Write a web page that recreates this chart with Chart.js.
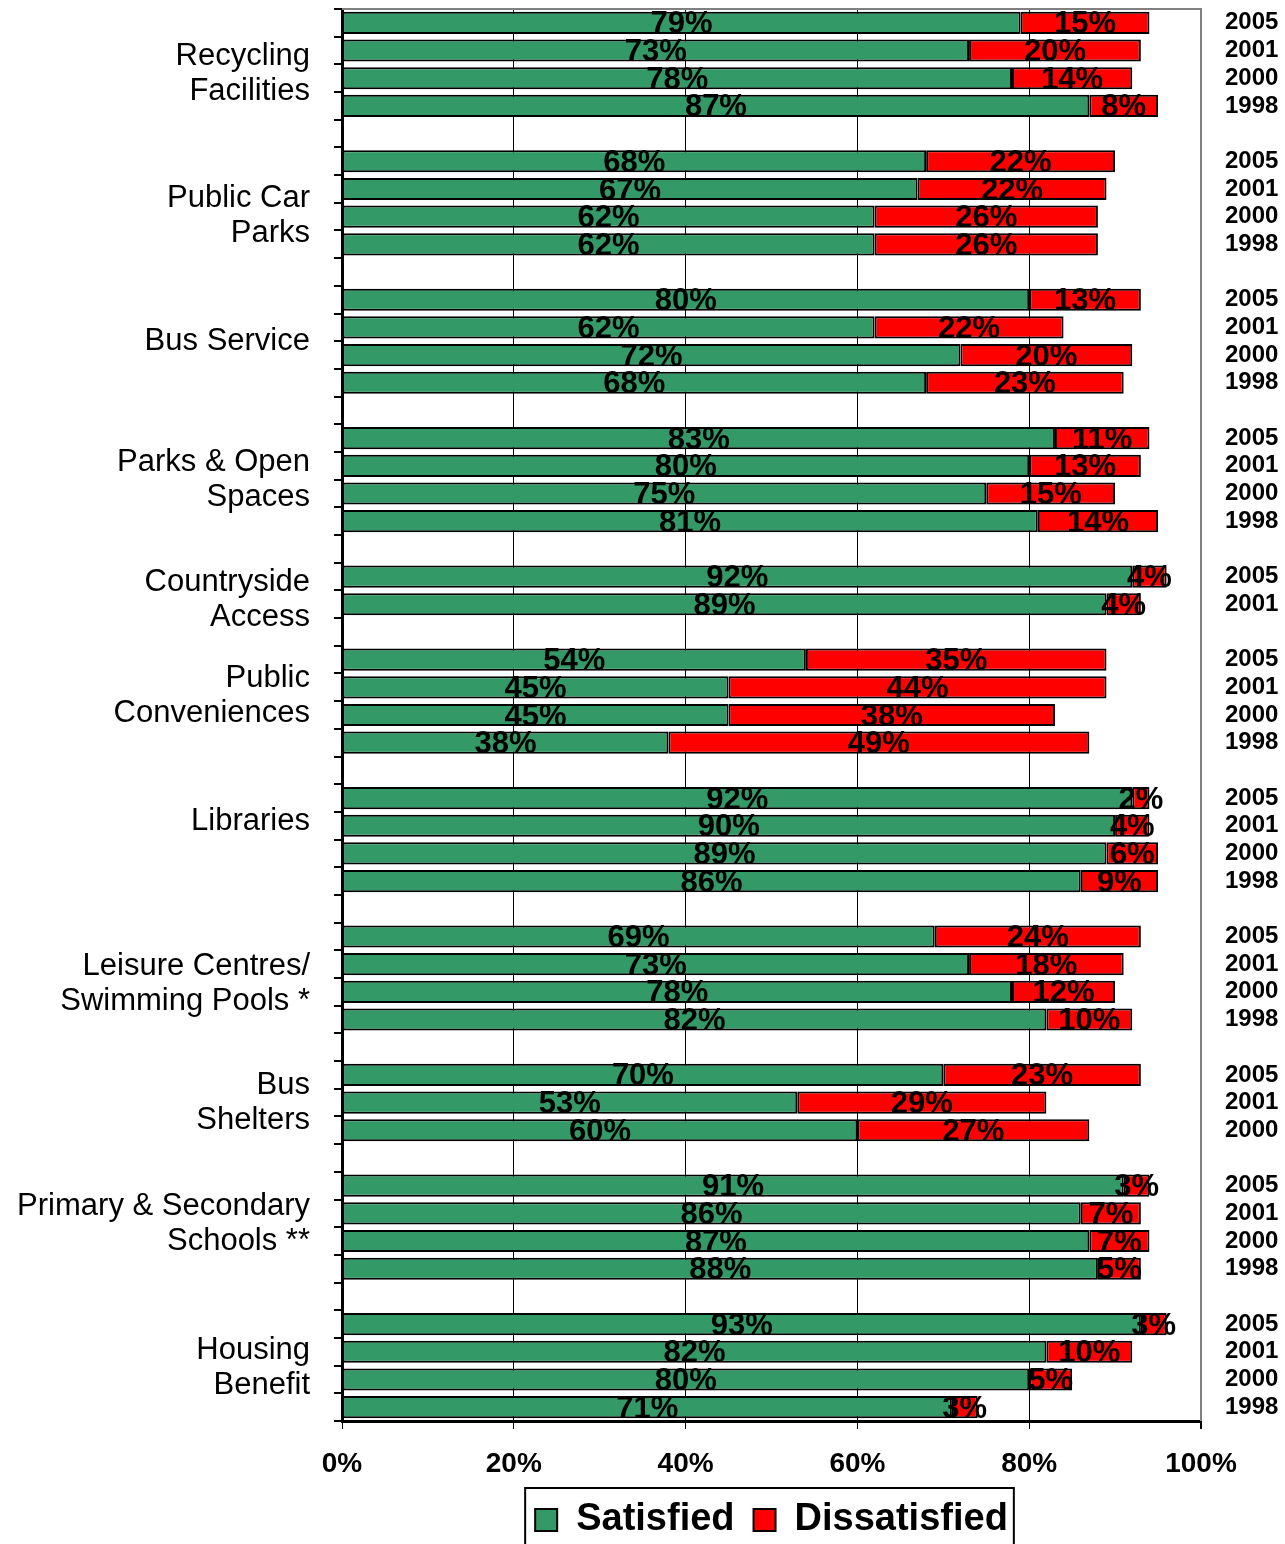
<!DOCTYPE html>
<html>
<head>
<meta charset="utf-8">
<script src="https://cdn.jsdelivr.net/npm/chart.js@4.4.0/dist/chart.umd.min.js"></script>
<style>
  html, body { margin: 0; padding: 0; background: #fff; }
  #wrap { width: 1285px; height: 1544px; }
</style>
</head>
<body>
<div id="wrap"><canvas id="chart"></canvas></div>
<script>
// survey results per service, newest year first
const services = [
  ['Recycling', 'Facilities'],
  ['Public Car', 'Parks'],
  ['Bus Service'],
  ['Parks & Open', 'Spaces'],
  ['Countryside', 'Access'],
  ['Public', 'Conveniences'],
  ['Libraries'],
  ['Leisure Centres/', 'Swimming Pools *'],
  ['Bus', 'Shelters'],
  ['Primary & Secondary', 'Schools **'],
  ['Housing', 'Benefit']
];
const years = [
  ['2005', '2001', '2000', '1998'],
  ['2005', '2001', '2000', '1998'],
  ['2005', '2001', '2000', '1998'],
  ['2005', '2001', '2000', '1998'],
  ['2005', '2001'],
  ['2005', '2001', '2000', '1998'],
  ['2005', '2001', '2000', '1998'],
  ['2005', '2001', '2000', '1998'],
  ['2005', '2001', '2000'],
  ['2005', '2001', '2000', '1998'],
  ['2005', '2001', '2000', '1998']
];
const satisfied = [
  [79, 73, 78, 87],
  [68, 67, 62, 62],
  [80, 62, 72, 68],
  [83, 80, 75, 81],
  [92, 89],
  [54, 45, 45, 38],
  [92, 90, 89, 86],
  [69, 73, 78, 82],
  [70, 53, 60],
  [91, 86, 87, 88],
  [93, 82, 80, 71]
];
const dissatisfied = [
  [15, 20, 14, 8],
  [22, 22, 26, 26],
  [13, 22, 20, 23],
  [11, 13, 15, 14],
  [4, 4],
  [35, 44, 38, 49],
  [2, 4, 6, 9],
  [24, 18, 12, 10],
  [23, 29, 27],
  [3, 7, 7, 5],
  [3, 10, 5, 3]
];
const xTicks = [0, 20, 40, 60, 80, 100];

// vertical shift (px) of each service name relative to its bar group
const nameShift = [10, 13, 0, 0, 10, -5, -18, 6, 0, -3, 2];

// flatten into rows, with an empty row between services
const rowKeys = [], rowYears = [], satRows = [], disRows = [], groupSpan = [];
services.forEach((s, g) => {
  if (g > 0) {
    rowKeys.push('gap' + g);
    rowYears.push('');
    satRows.push(null);
    disRows.push(null);
  }
  const first = rowKeys.length;
  years[g].forEach((yr, i) => {
    rowKeys.push(g + '-' + yr);
    rowYears.push(yr);
    satRows.push(satisfied[g][i]);
    disRows.push(dissatisfied[g][i]);
  });
  groupSpan.push([first, rowKeys.length - 1]);
});

const FONT = '"Liberation Sans", Arial, sans-serif';

const plotFrame = {
  id: 'plotFrame',
  beforeDatasetsDraw(chart) {
    const { ctx, chartArea: a } = chart;
    ctx.save();
    ctx.strokeStyle = '#808080';
    ctx.lineWidth = 2;
    ctx.beginPath();
    ctx.moveTo(a.left, a.top);
    ctx.lineTo(a.right, a.top);
    ctx.lineTo(a.right, a.bottom);
    ctx.stroke();
    ctx.restore();
  }
};

const serviceNames = {
  id: 'serviceNames',
  afterDraw(chart) {
    const { ctx, chartArea } = chart;
    const y = chart.scales.y;
    const lineH = 35;
    ctx.save();
    ctx.font = '31px ' + FONT;
    ctx.fillStyle = '#000';
    ctx.textAlign = 'right';
    ctx.textBaseline = 'middle';
    services.forEach((lines, g) => {
      const [a, b] = groupSpan[g];
      const mid = (y.getPixelForValue(a) + y.getPixelForValue(b)) / 2 + nameShift[g];
      const top = mid - (lines.length - 1) * lineH / 2;
      lines.forEach((t, k) => ctx.fillText(t, chartArea.left - 32, top + k * lineH));
    });
    ctx.restore();
  }
};

const valueLabels = {
  id: 'valueLabels',
  afterDatasetsDraw(chart) {
    const { ctx } = chart;
    ctx.save();
    ctx.font = 'bold 31px ' + FONT;
    ctx.fillStyle = '#000';
    ctx.textAlign = 'center';
    ctx.textBaseline = 'middle';
    chart.data.datasets.forEach((ds, di) => {
      chart.getDatasetMeta(di).data.forEach((bar, i) => {
        const v = ds.data[i];
        if (v == null) return;
        ctx.fillText(v + '%', (bar.x + bar.base) / 2, bar.y + 2);
      });
    });
    ctx.restore();
  }
};

const legendFrame = {
  id: 'legendFrame',
  afterDraw(chart) {
    const boxes = chart.legend.legendHitBoxes;
    if (!boxes || !boxes.length) return;
    const first = boxes[0], last = boxes[boxes.length - 1];
    const { ctx } = chart;
    ctx.save();
    ctx.strokeStyle = '#000';
    ctx.lineWidth = 2;
    ctx.strokeRect(first.left - 10, first.top - 13, last.left + last.width + 16 - first.left, chart.height);
    ctx.restore();
  }
};

new Chart(document.getElementById('chart'), {
  type: 'bar',
  data: {
    labels: rowKeys,
    datasets: [
      {
        label: 'Satisfied',
        data: satRows,
        backgroundColor: '#339966',
        borderColor: '#000',
        borderWidth: 2,
        borderSkipped: false,
        barPercentage: 0.8,
        categoryPercentage: 1
      },
      {
        label: 'Dissatisfied',
        data: disRows,
        backgroundColor: '#ff0000',
        borderColor: '#000',
        borderWidth: 2,
        borderSkipped: false,
        barPercentage: 0.8,
        categoryPercentage: 1
      }
    ]
  },
  options: {
    indexAxis: 'y',
    responsive: true,
    maintainAspectRatio: false,
    animation: false,
    layout: { padding: { top: 9, left: 0, right: 0, bottom: -5 } },
    scales: {
      x: {
        stacked: true,
        min: 0,
        max: 100,
        afterBuildTicks(scale) {
          scale.ticks = xTicks.map(v => ({ value: v }));
        },
        afterFit(scale) { scale.height = 61; },
        ticks: {
          callback: v => v + '%',
          color: '#000',
          font: { family: FONT, size: 28, weight: 'bold' },
          padding: 18,
          maxRotation: 0
        },
        grid: {
          color: c => (c.tick && c.tick.value === 100 ? '#808080' : '#000'),
          lineWidth: c => (c.tick && c.tick.value === 100 ? 2 : 1),
          tickColor: '#000',
          tickLength: 8
        },
        border: { color: '#000', width: 3 }
      },
      y: {
        stacked: true,
        offset: true,
        afterFit(scale) {
          scale.width = 342;
          scale.paddingTop = 0;
          scale.paddingBottom = 0;
        },
        ticks: { callback: () => '', autoSkip: false },
        grid: {
          offset: true,
          drawOnChartArea: false,
          drawTicks: true,
          tickLength: 8,
          color: '#000',
          tickColor: '#000',
          lineWidth: 2
        },
        border: { color: '#000', width: 3 }
      },
      y2: {
        type: 'category',
        position: 'right',
        labels: rowYears,
        offset: true,
        afterFit(scale) {
          scale.width = 84;
          scale.paddingTop = 0;
          scale.paddingBottom = 0;
        },
        ticks: {
          autoSkip: false,
          color: '#000',
          padding: 16,
          font: { family: FONT, size: 24, weight: 'bold' }
        },
        grid: { display: false },
        border: { display: false }
      }
    },
    plugins: {
      legend: {
        position: 'bottom',
        fullSize: false,
        labels: {
          color: '#000',
          boxWidth: 22,
          boxHeight: 22,
          padding: 19,
          font: { family: FONT, size: 38, weight: 'bold' }
        }
      },
      tooltip: { enabled: false }
    }
  },
  plugins: [plotFrame, serviceNames, valueLabels, legendFrame]
});
</script>
</body>
</html>
